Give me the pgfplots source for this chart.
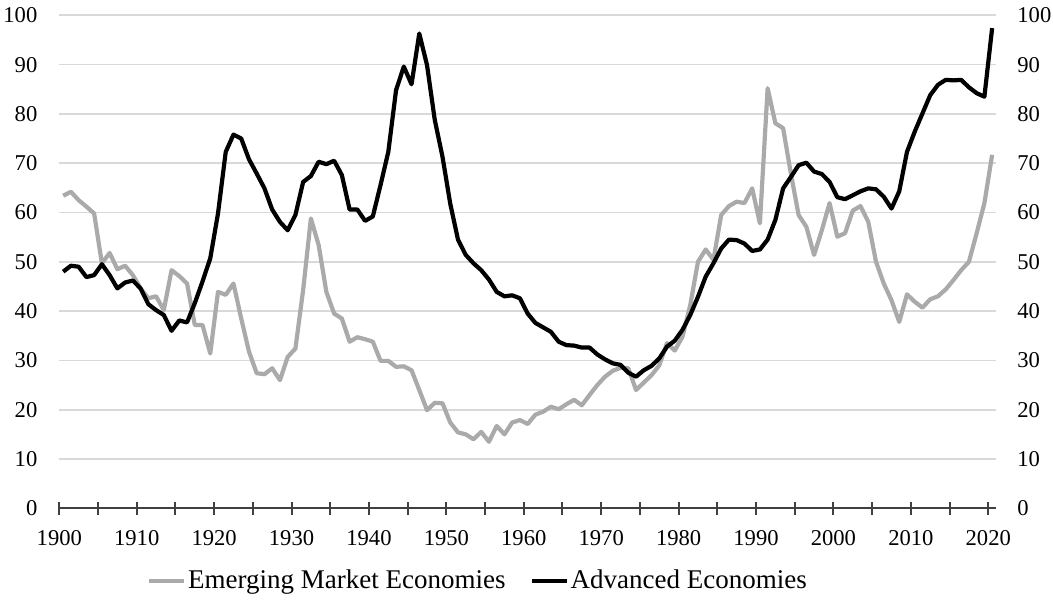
\documentclass[border=0pt]{standalone}
\usepackage{pgfplots}
\usepackage{pgfplotstable}
\pgfplotsset{compat=1.18}
\usepackage{fontspec}
\setmainfont{Liberation Serif}
\definecolor{emgray}{RGB}{170,170,170}
\definecolor{gridgray}{RGB}{217,217,217}
\definecolor{axisdark}{RGB}{64,64,64}

\pgfplotstableread{
yr em adv
1900 63.4 48.0
1901 64.2 49.2
1902 62.5 49.0
1903 61.2 46.9
1904 59.8 47.3
1905 49.7 49.5
1906 51.8 47.3
1907 48.5 44.6
1908 49.2 45.8
1909 47.3 46.2
1910 44.6 44.6
1911 42.6 41.4
1912 43.0 40.2
1913 40.2 39.2
1914 48.3 36.0
1915 47.1 38.1
1916 45.6 37.7
1917 37.2 41.6
1918 37.2 46.0
1919 31.4 50.7
1920 43.9 59.8
1921 43.3 72.3
1922 45.6 75.8
1923 38.5 75.0
1924 31.8 70.8
1925 27.4 67.9
1926 27.2 64.9
1927 28.4 60.6
1928 26.0 58.1
1929 30.7 56.4
1930 32.4 59.5
1931 44.3 66.2
1932 58.8 67.4
1933 53.4 70.3
1934 43.9 69.8
1935 39.5 70.5
1936 38.5 67.6
1937 33.8 60.6
1938 34.7 60.6
1939 34.3 58.3
1940 33.8 59.2
1941 29.9 65.6
1942 29.9 72.3
1943 28.7 84.8
1944 28.8 89.6
1945 28.0 86.0
1946 24.0 96.3
1947 19.9 89.9
1948 21.4 78.8
1949 21.3 71.3
1950 17.4 61.8
1951 15.4 54.5
1952 15.0 51.4
1953 14.0 49.7
1954 15.5 48.3
1955 13.5 46.4
1956 16.7 43.9
1957 15.0 43.0
1958 17.4 43.2
1959 17.9 42.6
1960 17.1 39.5
1961 19.0 37.6
1962 19.6 36.7
1963 20.6 35.8
1964 20.1 33.8
1965 21.1 33.1
1966 22.0 33.0
1967 20.9 32.6
1968 23.0 32.6
1969 25.0 31.2
1970 26.7 30.2
1971 27.9 29.4
1972 28.5 29.1
1973 28.4 27.5
1974 24.0 26.7
1975 25.5 28.0
1976 27.0 28.9
1977 29.0 30.4
1978 33.5 32.8
1979 32.0 34.0
1980 34.8 36.2
1981 41.2 39.2
1982 50.0 42.9
1983 52.5 47.0
1984 50.4 49.7
1985 59.5 52.7
1986 61.3 54.5
1987 62.2 54.4
1988 61.9 53.7
1989 64.9 52.2
1990 57.8 52.5
1991 85.2 54.5
1992 78.1 58.5
1993 77.1 64.9
1994 67.9 67.2
1995 59.5 69.6
1996 57.1 70.1
1997 51.4 68.3
1998 56.4 67.8
1999 61.9 66.2
2000 55.1 63.1
2001 55.8 62.7
2002 60.4 63.5
2003 61.3 64.3
2004 58.1 64.9
2005 50.0 64.7
2006 45.6 63.2
2007 42.2 60.8
2008 37.8 64.3
2009 43.4 72.3
2010 41.9 76.4
2011 40.7 80.1
2012 42.4 83.8
2013 43.0 85.9
2014 44.4 86.9
2015 46.3 86.8
2016 48.3 86.9
2017 50.0 85.4
2018 55.8 84.2
2019 61.9 83.5
2020 71.7 97.4
}\datatable

\pgfplotsset{
  common/.style={
    at={(29.65pt,45.85pt)}, anchor=south west,
    scale only axis, width=468.35pt, height=246.5pt,
    xmin=1900, xmax=2021, ymin=0, ymax=100,
    ytick={0,10,...,100},
    /pgf/number format/assume math mode=true,
    /pgf/number format/1000 sep={},
    ticklabel style={font=\fontsize{11.3}{13}\selectfont},
    y axis line style={draw=none},
    ytick style={draw=none},
  }
}

\begin{document}
\begin{tikzpicture}
\useasboundingbox (0,0) rectangle (526.5pt,300pt);
\begin{axis}[common,
  axis x line*=bottom, axis y line*=left,
  x axis line style={draw=axisdark, line width=1pt, -},
  xtick={1900,1910,...,2020},
  minor xtick={1905,1915,...,2015},
  xtick align=center,
  major tick length=6.5pt, minor tick length=6.5pt,
  xtick style={draw=axisdark, line width=1pt},
  xticklabel style={anchor=north, inner sep=0pt, yshift=-7.5pt},
  yticklabel style={anchor=east, inner sep=0pt, xshift=-10.8pt},
  ymajorgrids=true,
  major grid style={draw=gridgray, line width=0.8pt},
  legend style={at={(0.447,-0.147)}, anchor=center, draw=none, fill=none,
    legend columns=-1, inner sep=0pt,
    font=\fontsize{13.5}{16}\selectfont,
    /tikz/every even column/.append style={column sep=11pt},
    nodes={inner sep=1pt}},
  legend image code/.code={\draw[#1, line width=2pt] (0pt,0pt) -- (17.5pt,0pt);},
]
\addplot[emgray, line width=2.1pt, line join=round] table[x expr=\thisrow{yr}+0.5, y=em] {\datatable};
\addlegendentry{Emerging Market Economies}
\addplot[black, line width=2.1pt, line join=round] table[x expr=\thisrow{yr}+0.5, y=adv] {\datatable};
\addlegendentry{Advanced Economies}
\end{axis}
\begin{axis}[common,
  axis x line=none, axis y line*=right,
  yticklabel style={anchor=west, inner sep=0pt, xshift=10.5pt},
]
\end{axis}
\end{tikzpicture}
\end{document}
